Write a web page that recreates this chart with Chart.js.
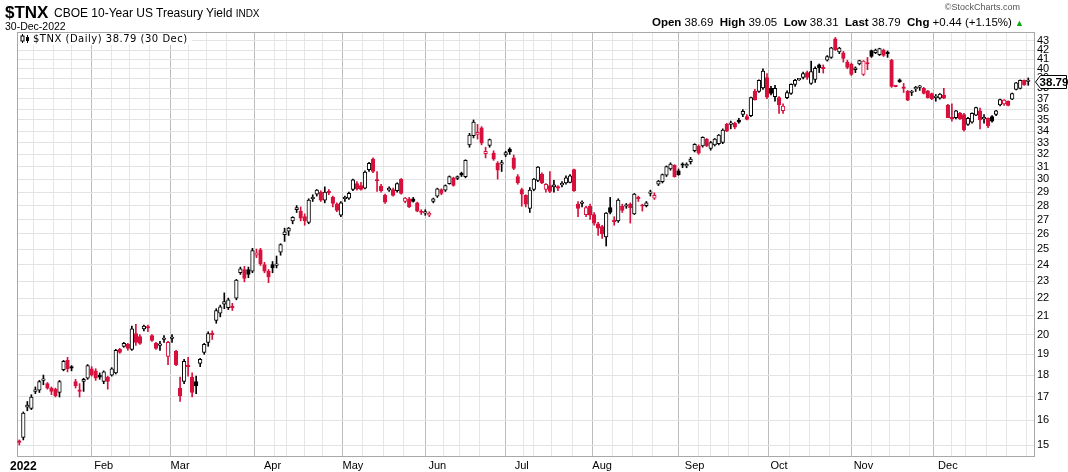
<!DOCTYPE html>
<html><head><meta charset="utf-8">
<script src="https://cdn.jsdelivr.net/npm/chart.js@4/dist/chart.umd.min.js"></script>
<style>
html,body{margin:0;padding:0;background:#fff;}
#wrap{position:relative;width:1068px;height:472px;overflow:hidden;font-family:"Liberation Sans",Arial,sans-serif;color:#000;}
#c{position:absolute;left:0;top:0;}
.t{position:absolute;white-space:nowrap;line-height:1;}
</style></head><body>
<div id="wrap">
<canvas id="c" width="1068" height="472"></canvas>
<div class="t" style="left:5px;top:4px;font-size:17px;font-weight:bold;">$TNX</div>
<div class="t" style="left:54px;top:7px;font-size:12px;">CBOE 10-Year US Treasury Yield <span style="font-size:10px;">INDX</span></div>
<div class="t" style="left:5px;top:21px;font-size:10.5px;">30-Dec-2022</div>
<div class="t" style="right:48px;top:3px;font-size:9px;color:#555;">©StockCharts.com</div>
<div class="t" style="right:44px;top:17px;font-size:11.5px;"><b>Open</b> 38.69&nbsp; <b>High</b> 39.05&nbsp; <b>Low</b> 38.31&nbsp; <b>Last</b> 38.79&nbsp; <b>Chg</b> +0.44 (+1.15%) <span style="color:#0a0;font-size:9px;">▲</span></div>
<div class="t" style="left:18px;top:33px;height:12px;width:174px;background:#fff;font-family:'DejaVu Sans',sans-serif;font-size:10px;letter-spacing:0.5px;">
<svg width="11" height="10" style="position:absolute;left:2px;top:1px"><line x1="2.5" y1="0" x2="2.5" y2="9" stroke="#000"/><rect x="1" y="2" width="3" height="5" fill="#fff" stroke="#000" stroke-width="1"/><line x1="7.5" y1="1" x2="7.5" y2="9" stroke="#000"/><rect x="6" y="3" width="3" height="4" fill="#000"/></svg>
<span style="position:absolute;left:15px;top:1px;">$TNX (Daily) 38.79 (30 Dec)</span></div>
<svg class="t" style="left:1034px;top:74px;" width="34" height="16">
<path d="M1.5 8 L6.5 1.5 L32.5 1.5 L32.5 14.5 L6.5 14.5 Z" fill="#fff" stroke="#000" stroke-width="1"/>
<text x="20" y="12.3" text-anchor="middle" font-family="Liberation Sans, Arial" font-size="11.5" font-weight="bold">38.79</text>
</svg>
</div>
<script>
// ---- categories: trading days (Dec 31 2021 + all 2022 sessions) ----
const dayLists = [
 ["2021-12",[31]],
 ["2022-01",[3,4,5,6,7,10,11,12,13,14,18,19,20,21,24,25,26,27,28,31]],
 ["2022-02",[1,2,3,4,7,8,9,10,11,14,15,16,17,18,22,23,24,25,28]],
 ["2022-03",[1,2,3,4,7,8,9,10,11,14,15,16,17,18,21,22,23,24,25,28,29,30,31]],
 ["2022-04",[1,4,5,6,7,8,11,12,13,14,18,19,20,21,22,25,26,27,28,29]],
 ["2022-05",[2,3,4,5,6,9,10,11,12,13,16,17,18,19,20,23,24,25,26,27,31]],
 ["2022-06",[1,2,3,6,7,8,9,10,13,14,15,16,17,21,22,23,24,27,28,29,30]],
 ["2022-07",[1,5,6,7,8,11,12,13,14,15,18,19,20,21,22,25,26,27,28,29]],
 ["2022-08",[1,2,3,4,5,8,9,10,11,12,15,16,17,18,19,22,23,24,25,26,29,30,31]],
 ["2022-09",[1,2,6,7,8,9,12,13,14,15,16,19,20,21,22,23,26,27,28,29,30]],
 ["2022-10",[3,4,5,6,7,10,11,12,13,14,17,18,19,20,21,24,25,26,27,28,31]],
 ["2022-11",[1,2,3,4,7,8,9,10,11,14,15,16,17,18,21,22,23,25,28,29,30]],
 ["2022-12",[1,2,5,6,7,8,9,12,13,14,15,16,19,20,21,22,23,27,28,29,30]]
];
const monthLabels = ["2022","Feb","Mar","Apr","May","Jun","Jul","Aug","Sep","Oct","Nov","Dec"];
const yTickValues = [15,16,17,18,19,20,21,22,23,24,25,26,27,28,29,30,31,32,33,34,35,36,37,38,39,40,41,42,43];
const priorClose = 15.2;

// ---- series values (yield x10) ----
const open = [15.15,
 15.3,16.55,16.5,17.25,17.3,17.75,17.6,17.4,17.35,17.2,18.25,18.7,18.4,17.7,17.3,17.7,17.85,18.3,18.2,18.0,
 17.7,17.9,18.0,18.1,19.25,19.4,19.5,19.25,20.05,19.9,20.3,20.4,19.95,19.55,19.45,19.75,18.9,19.8,19.15,
 17.4,17.7,18.45,17.9,17.7,18.55,19.1,19.6,20.05,20.75,21.15,21.65,21.45,21.55,22.0,23.5,23.7,23.7,23.6,24.6,24.95,24.0,23.6,
 24.0,23.95,24.8,25.95,26.2,26.9,27.7,27.6,27.2,26.8,28.5,28.85,29.0,28.4,29.05,28.6,28.1,27.3,28.5,28.55,
 29.2,29.65,29.5,29.3,30.75,31.6,29.9,29.45,28.75,29.15,29.2,29.1,30.0,28.3,28.5,28.5,28.2,27.55,27.45,27.3,28.3,
 28.7,29.2,29.15,29.65,30.1,30.05,30.45,30.2,32.8,33.6,33.7,34.3,32.05,32.75,32.1,31.25,31.2,31.95,32.45,31.7,30.2,
 29.2,28.75,27.8,29.2,29.9,30.4,29.2,29.5,29.4,29.35,29.55,29.7,29.75,30.75,28.1,28.15,27.35,27.95,27.35,26.7,
 26.5,25.8,27.85,26.95,26.9,27.95,27.95,28.1,27.4,28.55,28.0,28.0,28.9,28.55,29.6,29.8,30.3,30.8,31.1,30.65,31.2,31.05,31.4,
 32.3,32.7,32.7,33.3,32.5,32.8,32.9,33.0,34.6,34.6,34.7,35.0,35.5,35.3,35.4,37.7,37.7,38.05,39.1,38.0,37.2,
 37.1,35.85,37.1,37.5,38.4,38.85,39.1,39.6,38.5,38.9,40.4,40.05,40.9,41.2,43.25,41.8,41.7,40.7,40.45,39.9,40.5,
 39.4,40.55,41.95,41.7,41.5,42.0,41.65,40.9,38.2,38.85,38.05,37.7,37.6,37.95,38.1,38.0,37.75,37.5,37.1,37.05,37.35,
 36.35,35.15,35.2,35.6,35.5,34.6,34.8,35.45,35.85,35.1,35.15,35.3,35.5,36.4,36.5,36.75,36.95,37.9,38.0,38.8,38.69];
const high = [15.2,
 16.35,16.8,17.1,17.45,17.75,18.0,17.65,17.45,17.4,17.75,18.7,18.85,18.45,17.8,17.6,17.85,18.5,18.4,18.3,18.1,
 18.2,17.95,18.35,19.25,19.3,19.6,19.55,20.45,20.55,20.0,20.5,20.5,20.0,19.6,19.65,19.95,19.65,20.0,19.2,
 17.9,18.75,18.85,18.1,17.95,18.8,19.55,20.15,20.2,21.4,21.6,22.3,22.0,21.7,23.1,23.85,23.9,23.85,25.05,25.0,25.05,24.15,23.7,
 24.2,24.55,25.35,26.4,26.45,27.2,28.0,27.9,27.4,28.5,28.8,29.2,29.1,29.4,29.2,28.7,28.2,28.3,28.7,29.0,
 30.0,29.8,29.75,30.65,31.35,31.7,30.6,29.6,28.85,29.4,29.3,29.7,30.05,28.6,28.6,28.6,28.25,27.7,27.7,27.55,28.55,
 29.3,29.25,29.55,30.25,30.15,30.25,30.55,31.55,33.8,35.0,34.6,34.4,32.6,33.3,32.3,31.4,31.5,32.25,32.55,31.95,30.35,
 29.3,28.8,29.35,30.05,31.0,30.5,29.65,30.6,29.9,29.5,29.8,30.25,30.35,30.8,28.3,28.35,27.95,28.1,27.5,26.8,
 26.6,27.5,28.6,27.2,28.5,28.1,28.15,28.2,28.9,28.7,28.1,28.3,29.15,28.95,29.9,30.4,31.05,31.3,31.15,30.8,31.3,31.3,31.75,
 32.9,32.8,33.5,33.35,33.1,33.35,33.7,34.2,34.7,34.9,34.8,35.15,35.95,35.5,37.15,37.9,38.85,40.0,39.5,38.2,38.3,
 37.2,36.5,37.75,38.45,38.9,38.95,39.65,39.75,40.8,40.2,40.5,40.4,41.4,42.3,43.4,42.3,41.85,40.9,40.6,40.2,40.9,
 40.85,41.2,42.0,42.1,42.2,42.1,41.9,41.0,38.25,38.95,38.5,37.8,37.8,38.2,38.3,38.1,37.8,37.55,37.4,37.5,38.0,
 36.45,36.5,35.9,35.7,35.6,35.25,35.65,36.2,36.1,35.5,35.2,35.4,35.9,36.95,36.9,36.8,37.55,38.6,38.85,38.85,39.05];
const low = [15.0,
 15.2,16.4,16.45,17.15,17.2,17.55,17.35,17.1,17.0,17.0,18.2,18.15,18.2,17.4,17.0,17.25,17.8,17.95,17.75,17.8,
 17.6,17.35,17.95,18.05,19.05,19.35,19.2,19.2,19.45,19.5,20.2,20.15,19.65,19.25,19.2,19.6,18.5,19.6,18.45,
 16.8,17.6,17.95,17.0,17.15,18.4,19.0,19.4,19.75,20.6,20.95,21.4,21.35,21.3,21.9,23.4,22.95,23.2,23.5,24.45,23.95,23.5,22.9,
 23.5,23.8,24.6,25.5,25.9,26.7,27.5,26.9,26.6,26.7,28.3,28.7,28.3,28.2,28.8,27.9,27.55,27.2,28.3,28.45,
 29.1,29.15,29.15,29.25,30.6,30.5,29.05,29.0,28.15,29.05,28.7,29.0,28.85,28.2,27.85,28.25,27.55,27.35,27.3,27.2,28.2,
 28.6,28.8,29.05,29.6,29.45,29.95,30.2,30.1,32.6,33.4,33.3,32.8,31.7,32.6,31.5,30.0,30.6,31.8,32.0,30.75,29.6,
 27.95,27.9,27.5,29.1,29.8,29.65,29.0,28.95,29.0,29.1,29.4,29.6,29.7,29.05,27.2,27.9,27.2,27.0,26.6,25.9,
 25.7,25.2,27.4,26.6,26.8,27.5,27.8,26.75,27.35,28.3,27.6,27.9,28.7,28.45,29.5,29.7,30.2,30.7,30.15,30.3,30.9,30.9,31.2,
 32.2,32.0,32.6,32.65,32.35,32.7,32.8,32.9,33.95,34.2,34.2,34.7,35.3,35.0,35.3,36.85,37.6,37.9,37.0,37.35,36.75,
 35.6,35.6,37.0,37.4,38.2,38.8,38.95,38.9,38.4,38.6,39.6,39.55,40.8,41.1,41.95,41.6,40.7,40.0,39.3,39.6,40.4,
 39.3,39.9,41.2,41.6,41.4,41.3,41.2,38.1,38.15,38.6,37.6,36.8,37.3,37.7,37.8,37.45,37.05,36.9,36.75,36.95,37.0,
 35.2,34.9,35.1,35.05,34.0,34.5,34.7,35.4,34.2,34.7,34.3,34.8,35.4,36.3,36.35,36.3,36.9,37.85,37.95,38.3,38.31];
const close = [15.1,
 16.3,16.65,17.0,17.3,17.7,17.8,17.4,17.25,17.05,17.7,18.65,18.3,18.33,17.5,17.25,17.8,18.45,18.0,17.85,17.9,
 18.15,17.7,18.3,19.2,19.1,19.55,19.3,20.3,19.6,19.55,20.45,20.35,19.7,19.3,19.5,19.8,19.6,19.85,18.5,
 17.05,18.65,18.4,17.2,17.5,18.75,19.5,20.05,20.0,21.3,21.5,21.8,21.9,21.45,23.05,23.75,23.15,23.4,24.9,24.75,24.05,23.6,23.25,
 23.8,24.05,25.3,26.15,26.4,27.15,27.85,27.1,26.9,28.4,28.6,29.15,28.4,29.0,28.95,28.15,27.65,28.2,28.55,28.9,
 29.95,29.25,29.2,30.55,31.25,30.6,29.85,29.1,28.25,29.3,28.75,29.65,28.9,28.55,27.9,28.3,27.6,27.5,27.52,27.45,28.5,
 29.25,28.9,29.5,30.2,29.5,30.2,30.3,31.5,33.65,34.8,33.9,32.95,32.25,33.25,31.6,30.7,31.3,32.15,32.2,30.85,29.7,
 28.85,28.1,29.15,30.0,30.95,29.7,29.6,29.05,29.55,29.3,29.6,30.1,30.25,29.1,27.8,28.2,27.85,27.3,26.75,26.4,
 26.0,27.45,27.5,26.85,28.4,27.65,28.0,27.85,28.85,28.5,27.95,28.2,28.95,28.75,29.85,30.35,31.0,31.2,30.2,30.35,31.1,31.15,31.6,
 32.85,32.1,33.45,32.7,33.0,33.3,33.65,34.1,34.0,34.7,34.35,34.8,35.8,35.05,37.1,36.9,38.8,39.75,37.15,37.5,38.0,
 36.4,36.3,37.6,38.4,38.8,38.9,39.5,39.1,39.7,40.05,40.1,40.0,41.3,42.25,42.05,42.2,41.1,40.15,39.4,40.1,40.85,
 40.8,40.5,41.3,42.0,42.15,41.4,41.6,38.2,38.18,38.65,38.0,36.85,37.65,38.0,38.15,37.5,37.1,37.0,37.15,37.45,37.05,
 35.2,35.1,35.85,35.1,34.1,35.15,35.6,36.15,35.0,35.15,34.45,34.9,35.85,36.9,36.85,36.35,37.5,38.55,38.8,38.35,38.79];

// ---- derived tables ----
const dates = [];
dayLists.forEach(([ym, days]) => { const [y, m] = ym.split('-').map(Number); days.forEach(d => dates.push(new Date(y, m - 1, d))); });
const isMonthStart = dates.map((d, i) => i > 0 && d.getMonth() !== dates[i - 1].getMonth());
const isWeekStart = dates.map((d, i) => i > 0 && (d.getDay() <= dates[i - 1].getDay() || (d - dates[i - 1]) >= 7 * 864e5));
const gridIdx = []; const labelAt = {};
{
  let week = [];
  const flush = () => { if (!week.length) return; const m = week.find(j => isMonthStart[j]); gridIdx.push(m !== undefined ? m : week[0]); week = []; };
  for (let i = 1; i < dates.length; i++) { if (isWeekStart[i]) flush(); week.push(i); }
  flush();
  dates.forEach((d, i) => { if (isMonthStart[i]) labelAt[i] = monthLabels[d.getMonth()]; });
}
const RED = '#d8103c';
const colr = close.map((c, i) => c >= (i ? close[i - 1] : priorClose) ? '#000000' : RED);
const fillc = close.map((c, i) => c < open[i] ? colr[i] : '#ffffff');
const bodyData = close.map((c, i) => ({ x: i, y: [Math.min(open[i], c), Math.max(open[i], c)] }));
const wickData = close.map((c, i) => ({ x: i, y: [low[i], high[i]] }));

const framePlugin = {
  id: 'frame',
  beforeDatasetsDraw(chart) {
    const a = chart.chartArea, g = chart.ctx;
    g.save(); g.strokeStyle = '#a8a8a8'; g.lineWidth = 1;
    g.strokeRect(Math.round(a.left) + 0.5, Math.round(a.top) + 0.5, Math.round(a.right - a.left), Math.round(a.bottom - a.top));
    g.restore();
  }
};

new Chart(document.getElementById('c'), {
  type: 'bar',
  data: { datasets: [
    { label: 'body', data: bodyData, backgroundColor: fillc, borderColor: colr, borderWidth: 1, borderSkipped: false,
      barThickness: 3.6, minBarLength: 1.5, grouped: false, order: 1 },
    { label: 'wick', data: wickData, backgroundColor: colr, borderWidth: 0, barThickness: 1, grouped: false, order: 2 }
  ] },
  options: {
    responsive: false, animation: false, devicePixelRatio: 1,
    layout: { padding: { left: 17, top: 32, right: 0, bottom: 0 } },
    plugins: { legend: { display: false }, tooltip: { enabled: false }, title: { display: false } },
    scales: {
      x: {
        type: 'linear', min: -0.57, max: 252.43, offset: false,
        afterFit: s => { s.height = 16; },
        afterBuildTicks: s => { s.ticks = gridIdx.map(v => ({ value: v })); },
        grid: { color: c => (c.tick && isMonthStart[c.tick.value]) ? '#bdbdbd' : '#e6e6e6', drawTicks: false, lineWidth: 1 },
        border: { display: false },
        ticks: {
          autoSkip: false, maxRotation: 0, minRotation: 0, padding: 3, color: '#000',
          font: c => (c.tick && labelAt[c.tick.value] === '2022') ? { family: 'Liberation Sans', size: 12, weight: 'bold' } : { family: 'Liberation Sans', size: 11 },
          callback: v => labelAt[v] || ''
        }
      },
      y: {
        type: 'logarithmic', position: 'right', min: 14.576, max: 44.02,
        afterFit: s => { s.width = 34; },
        afterBuildTicks: s => { s.ticks = yTickValues.map(v => ({ value: v })); },
        grid: { color: '#e3e3e3', drawTicks: false, lineWidth: 1 },
        border: { display: false },
        ticks: { autoSkip: false, padding: 3, color: '#000', font: { family: 'Liberation Sans', size: 11 }, callback: v => String(v) }
      }
    }
  },
  plugins: [framePlugin]
});
</script>
</body></html>
